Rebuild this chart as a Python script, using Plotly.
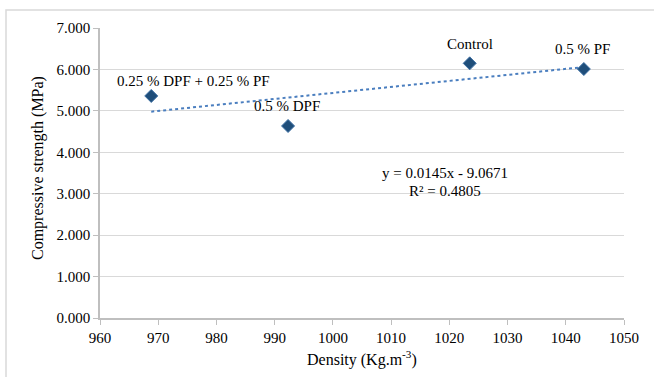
import plotly.graph_objects as go

# Data
labels = ["0.25 % DPF + 0.25 % PF", "0.5 % DPF", "Control", "0.5 % PF"]
density = [968.8, 992.3, 1023.5, 1043.1]
strength = [5.36, 4.635, 6.147, 6.01]
slope = 0.0145
intercept = -9.0671
r2 = 0.4805
x_ticks = [960, 970, 980, 990, 1000, 1010, 1020, 1030, 1040, 1050]
y_ticks = [0, 1, 2, 3, 4, 5, 6, 7]

label_shift_x = [42, -1, 0, -1]
label_shift_y = [15, 20, 19, 20]

FONT = "Liberation Serif"

trend_x = [min(density), max(density)]
trend_y = [slope * v + intercept for v in trend_x]

fig = go.Figure()
fig.add_trace(go.Scatter(
    x=trend_x, y=trend_y, mode="lines",
    line=dict(color="#4a7ebf", width=2, dash="dot"),
    hoverinfo="skip", showlegend=False,
))
fig.add_trace(go.Scatter(
    x=density, y=strength, mode="markers",
    marker=dict(symbol="diamond", size=10, color="#1f4e7a",
                line=dict(color="#3d6fa3", width=1)),
    showlegend=False,
))

for lab, xv, yv, dx, dy in zip(labels, density, strength, label_shift_x, label_shift_y):
    fig.add_annotation(x=xv, y=yv, text=lab, showarrow=False,
                       xshift=dx, yshift=dy,
                       font=dict(family=FONT, size=15, color="black"))

fig.add_annotation(x=1019.3, y=3.49, showarrow=False,
                   text=f"y = {slope}x - {abs(intercept)}",
                   font=dict(family=FONT, size=15, color="black"))
fig.add_annotation(x=1019.3, y=3.07, showarrow=False,
                   text=f"R² = {r2}",
                   font=dict(family=FONT, size=15, color="black"))

# Axis titles
fig.add_annotation(xref="paper", yref="paper", x=0.5, y=-0.139, showarrow=False,
                   text="Density (Kg.m<sup>-3</sup>)", yanchor="middle",
                   font=dict(family=FONT, size=16, color="black"))
fig.add_annotation(xref="paper", yref="paper", x=-0.1192, y=0.5155, showarrow=False,
                   text="Compressive strength (MPa)", textangle=-90, xanchor="center",
                   yanchor="middle",
                   font=dict(family=FONT, size=16, color="black"))

# Outer frame
fig.add_shape(type="rect", xref="paper", yref="paper",
              x0=-0.1794, x1=1.1, y0=-0.3, y1=1.062,
              line=dict(color="#d9d9d9", width=1.5), layer="below")

fig.update_xaxes(
    range=[960, 1050], tickvals=x_ticks, ticktext=[str(v) for v in x_ticks],
    showgrid=False, zeroline=False, showline=True, linecolor="#bfbfbf", linewidth=1.5,
    ticks="outside", ticklen=5, tickcolor="#bfbfbf",
    tickfont=dict(family=FONT, size=15, color="black"),
)
fig.update_yaxes(
    range=[0, 7], tickvals=y_ticks, ticktext=[f"{v:.3f}" for v in y_ticks],
    showgrid=True, gridcolor="#d9d9d9", gridwidth=1,
    zeroline=False, showline=True, linecolor="#bfbfbf", linewidth=1.5,
    ticks="outside", ticklen=5, tickcolor="#bfbfbf",
    tickfont=dict(family=FONT, size=15, color="black"),
)

fig.update_layout(
    width=654, height=377,
    margin=dict(l=100, r=30, t=28, b=59),
    paper_bgcolor="white", plot_bgcolor="white",
    font=dict(family=FONT, size=15, color="black"),
    showlegend=False,
)

fig.write_html("out.html")
